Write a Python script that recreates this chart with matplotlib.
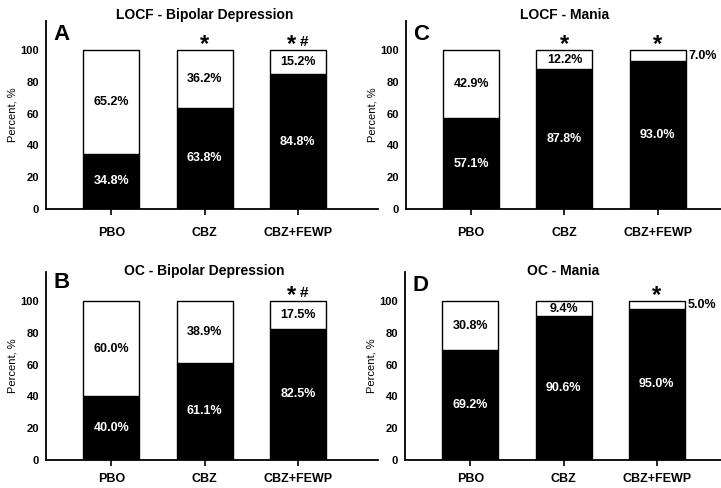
import numpy as np
import matplotlib
matplotlib.use('Agg')
import matplotlib.pyplot as plt

plt.rcParams['font.family'] = 'Liberation Sans'
plt.rcParams['font.weight'] = 'bold'

groups = ['PBO', 'CBZ', 'CBZ+FEWP']

# responders (black) per panel; the white part is the rest up to 100
locf_bd = [34.8, 63.8, 84.8]
locf_mania = [57.1, 87.8, 93.0]
oc_bd = [40.0, 61.1, 82.5]
oc_mania = [69.2, 90.6, 95.0]

# non-responders as printed
locf_bd_non = [65.2, 36.2, 15.2]
locf_mania_non = [42.9, 12.2, 7.0]
oc_bd_non = [60.0, 38.9, 17.5]
oc_mania_non = [30.8, 9.4, 5.0]

# significance marks above each bar: (star vs PBO, hash vs CBZ)
locf_bd_sig = [(False, False), (True, False), (True, True)]
locf_mania_sig = [(False, False), (True, False), (True, False)]
oc_bd_sig = [(False, False), (False, False), (True, True)]
oc_mania_sig = [(False, False), (False, False), (True, False)]

# letter, title, data, axes origin, title baseline, letter y
panels = [
    ('A', 'LOCF - Bipolar Depression', locf_bd, locf_bd_non, locf_bd_sig, [0.0638, 0.5717], 119.5, 109.5),
    ('C', 'LOCF - Mania', locf_mania, locf_mania_non, locf_mania_sig, [0.563, 0.5717], 119.5, 109.5),
    ('B', 'OC - Bipolar Depression', oc_bd, oc_bd_non, oc_bd_sig, [0.0638, 0.0574], 116.4, 111.5),
    ('D', 'OC - Mania', oc_mania, oc_mania_non, oc_mania_sig, [0.5617, 0.0574], 116.4, 109.5),
]

fig = plt.figure(figsize=(7.21, 4.88), dpi=100)

for letter, title, resp, non, sig, pos, title_y, letter_y in panels:
    ax = fig.add_axes([pos[0], pos[1], 0.4605, 0.385])
    x = np.arange(len(groups))
    ax.bar(x, resp, width=0.6, color='black', edgecolor='black', linewidth=1)
    ax.bar(x, non, bottom=resp, width=0.6, color='white', edgecolor='black', linewidth=1)

    for i in range(len(groups)):
        ax.text(x[i], resp[i] / 2, '%.1f%%' % resp[i], color='white',
                ha='center', va='center', fontsize=9, fontweight='bold')
        if non[i] < 8:
            ax.text(x[i] + 0.335, resp[i] + non[i] / 2, '%.1f%%' % non[i], color='black',
                    ha='left', va='center', fontsize=9, fontweight='bold')
        else:
            ax.text(x[i], resp[i] + non[i] / 2, '%.1f%%' % non[i], color='black',
                    ha='center', va='center', fontsize=9, fontweight='bold')
        star, hash_ = sig[i]
        if star:
            sx = x[i] - 0.07 if hash_ else x[i]
            ax.text(sx, 99.5, '*', ha='center', va='baseline', fontsize=17, fontweight='bold')
        if hash_:
            ax.text(x[i] + 0.07, 102.3, '#', ha='center', va='baseline', fontsize=11, fontweight='bold')

    ax.text(1, title_y, title, ha='center', va='baseline', fontsize=10, fontweight='bold')
    ax.text(-0.62, letter_y, letter, ha='left', va='center', fontsize=16, fontweight='bold')

    ax.set_xlim(-0.7, 2.86)
    ax.set_ylim(0, 118.2)
    ax.set_yticks([0, 20, 40, 60, 80, 100])
    ax.set_xticks(x)
    ax.set_xticklabels(groups, fontsize=9, fontweight='bold')
    for lab in ax.get_yticklabels():
        lab.set_fontsize(8)
        lab.set_fontweight('bold')
    ax.tick_params(axis='y', length=0, pad=5)
    ax.tick_params(axis='x', length=4, width=1.2, pad=9 if pos[1] > 0.5 else 5.5)
    ax.set_ylabel('Percent, %', fontsize=8, fontweight='normal', labelpad=2)
    ax.spines['top'].set_visible(False)
    ax.spines['right'].set_visible(False)
    ax.spines['left'].set_linewidth(1.3)
    ax.spines['bottom'].set_linewidth(1.3)

fig.savefig('out.png', dpi=100)
